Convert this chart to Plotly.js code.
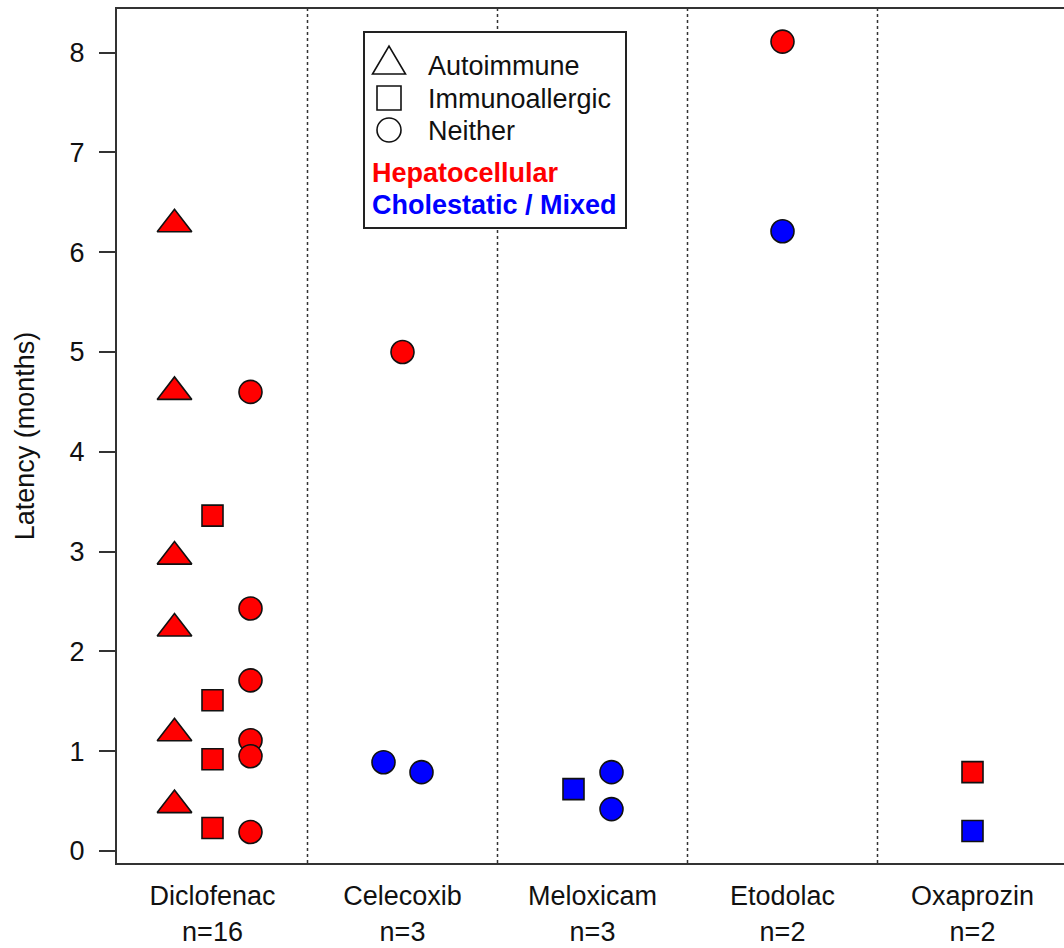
<!DOCTYPE html>
<html><head><meta charset="utf-8">
<script src="https://cdn.plot.ly/plotly-3.0.1.min.js"></script>
<style>html,body{margin:0;padding:0;background:#fff}</style>
</head><body><div id="chart" style="width:1064px;height:948px"></div>
<script>
// ---- data ----
const drugs = ['Diclofenac', 'Celecoxib', 'Meloxicam', 'Etodolac', 'Oxaprozin'];
const drugCounts = [16, 3, 3, 2, 2];
const patterns = ['Autoimmune', 'Immunoallergic', 'Neither'];
const injuryTypes = ['Hepatocellular', 'Cholestatic / Mixed'];

// one entry per case
const caseDrug = [
  'Diclofenac','Diclofenac','Diclofenac','Diclofenac','Diclofenac','Diclofenac',
  'Diclofenac','Diclofenac','Diclofenac','Diclofenac',
  'Diclofenac','Diclofenac','Diclofenac','Diclofenac','Diclofenac','Diclofenac',
  'Celecoxib','Celecoxib','Celecoxib',
  'Meloxicam','Meloxicam','Meloxicam',
  'Etodolac','Etodolac',
  'Oxaprozin','Oxaprozin'
];
const casePattern = [
  'Autoimmune','Autoimmune','Autoimmune','Autoimmune','Autoimmune','Autoimmune',
  'Immunoallergic','Immunoallergic','Immunoallergic','Immunoallergic',
  'Neither','Neither','Neither','Neither','Neither','Neither',
  'Neither','Neither','Neither',
  'Immunoallergic','Neither','Neither',
  'Neither','Neither',
  'Immunoallergic','Immunoallergic'
];
const caseInjury = [
  'Hepatocellular','Hepatocellular','Hepatocellular','Hepatocellular','Hepatocellular','Hepatocellular',
  'Hepatocellular','Hepatocellular','Hepatocellular','Hepatocellular',
  'Hepatocellular','Hepatocellular','Hepatocellular','Hepatocellular','Hepatocellular','Hepatocellular',
  'Hepatocellular','Cholestatic / Mixed','Cholestatic / Mixed',
  'Cholestatic / Mixed','Cholestatic / Mixed','Cholestatic / Mixed',
  'Hepatocellular','Cholestatic / Mixed',
  'Hepatocellular','Cholestatic / Mixed'
];
const caseDodge = [
  -0.2,-0.2,-0.2,-0.2,-0.2,-0.2,
  0,0,0,0,
  0.2,0.2,0.2,0.2,0.2,0.2,
  0,-0.1,0.1,
  -0.1,0.1,0.1,
  0,0,
  0,0
];
const caseLatency = [
  6.28,4.60,2.95,2.23,1.18,0.46,
  3.36,1.51,0.92,0.23,
  4.60,2.43,1.71,1.11,0.95,0.19,
  5.00,0.89,0.79,
  0.62,0.79,0.42,
  8.11,6.21,
  0.79,0.20
];
const yTicks = [0, 1, 2, 3, 4, 5, 6, 7, 8];

// ---- styles ----
const FONT = 'Liberation Sans, Arial, Helvetica, sans-serif';
const FS = 27;
const symbolOf = {'Autoimmune': 'triangle-up', 'Immunoallergic': 'square', 'Neither': 'circle'};
const sizeOf = {'Autoimmune': 30, 'Immunoallergic': 21, 'Neither': 23};
const colorOf = {'Hepatocellular': '#FF0000', 'Cholestatic / Mixed': '#0000FF'};

const xPos = caseDrug.map((d, i) => drugs.indexOf(d) + 1 + caseDodge[i]);

const trace = {
  type: 'scatter', mode: 'markers',
  x: xPos, y: caseLatency,
  marker: {
    symbol: casePattern.map(p => symbolOf[p]),
    size: casePattern.map(p => sizeOf[p]),
    color: caseInjury.map(t => colorOf[t]),
    opacity: 1,
    line: {color: '#111', width: 1.6}
  },
  hoverinfo: 'x+y', showlegend: false
};

// plot area in pixels
const L = 117, R = 1064, T = 9, B = 863, W = 1064, H = 948;
const px = x => (x - L) / (R - L);
const py = y => (B - y) / (B - T);

const shapes = [];
// dotted separators between drugs
for (let i = 1; i < drugs.length; i++) {
  shapes.push({type: 'line', xref: 'x', yref: 'paper', x0: i + 0.5, x1: i + 0.5, y0: 0, y1: 1,
    line: {color: '#333', width: 1.5, dash: 'dot'}, layer: 'below'});
}
// legend box
shapes.push({type: 'rect', xref: 'paper', yref: 'paper', x0: px(364), x1: px(626), y0: py(228), y1: py(32),
  line: {color: '#222', width: 2}, fillcolor: '#fff'});
// legend symbols (open black)
const lx = 389;
shapes.push({type: 'path', xref: 'paper', yref: 'paper',
  path: `M ${px(lx - 16.5)} ${py(74)} L ${px(lx + 16.5)} ${py(74)} L ${px(lx)} ${py(46)} Z`,
  line: {color: '#111', width: 1.6}});
shapes.push({type: 'rect', xref: 'paper', yref: 'paper', x0: px(lx - 12), x1: px(lx + 12), y0: py(110), y1: py(86),
  line: {color: '#111', width: 1.6}});
shapes.push({type: 'circle', xref: 'paper', yref: 'paper', x0: px(lx - 12), x1: px(lx + 12), y0: py(142), y1: py(118),
  line: {color: '#111', width: 1.6}});

const annotations = [];
const legendRows = [
  {text: patterns[0], x: 426, y: 66, color: '#111', bold: false},
  {text: patterns[1], x: 426, y: 99, color: '#111', bold: false},
  {text: patterns[2], x: 426, y: 131, color: '#111', bold: false},
  {text: injuryTypes[0], x: 370, y: 173, color: colorOf[injuryTypes[0]], bold: true},
  {text: injuryTypes[1], x: 370, y: 205, color: colorOf[injuryTypes[1]], bold: true}
];
legendRows.forEach(r => annotations.push({
  xref: 'paper', yref: 'paper', x: px(r.x), y: py(r.y), xanchor: 'left', yanchor: 'middle',
  text: r.bold ? '<b>' + r.text + '</b>' : r.text, showarrow: false,
  font: {family: FONT, size: FS, color: r.color}
}));

const layout = {
  width: W, height: H,
  margin: {l: L, r: W - R, t: T, b: H - B, pad: 0},
  paper_bgcolor: '#fff', plot_bgcolor: '#fff',
  font: {family: FONT, size: FS, color: '#111'},
  showlegend: false,
  xaxis: {
    range: [1 + (L - 212.5) / 190, 1 + (R - 212.5) / 190],
    tickvals: drugs.map((d, i) => i + 1),
    ticktext: drugs.map((d, i) => d + '<br>n=' + drugCounts[i]),
    ticks: '', showgrid: false, zeroline: false,
    showline: true, mirror: true, linecolor: '#333', linewidth: 2,
    tickfont: {family: FONT, size: FS, color: '#111'},
    ticklabelstandoff: 8
  },
  yaxis: {
    range: [-(B - 851) / 99.8, (851 - T) / 99.8],
    tickvals: yTicks, ticktext: yTicks.map(String),
    ticks: 'outside', ticklen: 16, tickwidth: 2, tickcolor: '#333',
    showgrid: false, zeroline: false,
    showline: true, mirror: true, linecolor: '#333', linewidth: 2,
    tickfont: {family: FONT, size: FS, color: '#111'},
    ticklabelstandoff: 9,
    title: {text: 'Latency (months)', font: {family: FONT, size: FS, color: '#111'}, standoff: 27}
  },
  shapes: shapes,
  annotations: annotations
};

Plotly.newPlot('chart', [trace], layout, {displayModeBar: false, staticPlot: true});
</script>
</body></html>
